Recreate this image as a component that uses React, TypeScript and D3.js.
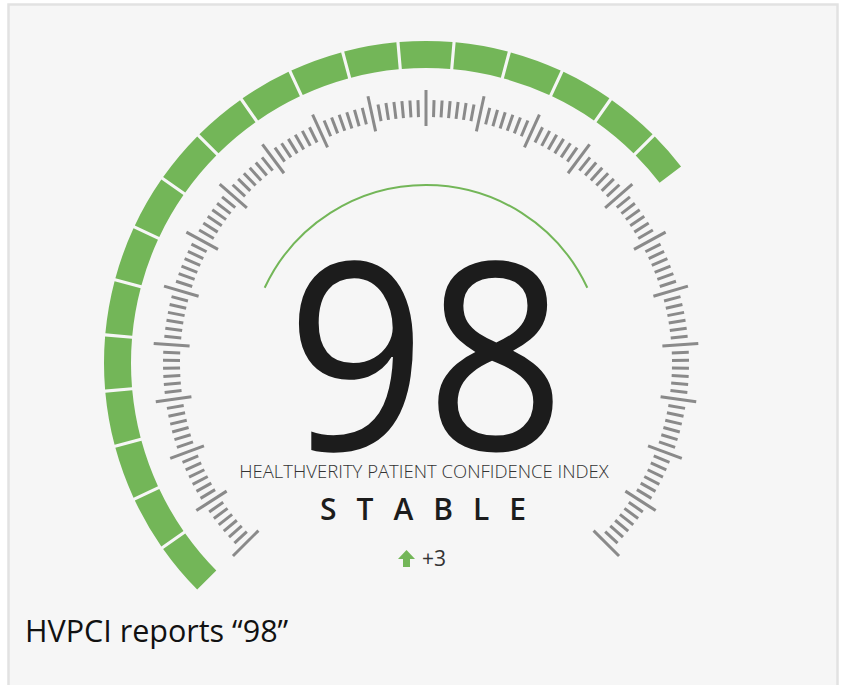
import { useMemo } from 'react'
import * as d3 from 'd3'

// gauge values
const score = 98
const change = 3
const status = 'STABLE'
const indexLabel = 'HEALTHVERITY PATIENT CONFIDENCE INDEX'
const caption = 'HVPCI reports \u201c98\u201d'

// green band: equal blocks, lit up to the score on a 0..gaugeMax dial
const segmentCount = 27
const gaugeMax = 141

// scale ticks: minor steps, every 7th one is long
const tickSteps = 154
const majorEvery = 7

const WIDTH = 842
const HEIGHT = 685
const GREEN = '#73b658'
const TICK = '#8a8a8a'

const deg = (d: number) => (d * Math.PI) / 180

export default function App() {
  const cx = 426
  const cy = 363

  const segAngle = useMemo(
    () => d3.scaleLinear().domain([0, segmentCount]).range([deg(-135), deg(135)]),
    []
  )
  const valueAngle = useMemo(
    () => d3.scaleLinear().domain([0, gaugeMax]).range([deg(-135), deg(135)]),
    []
  )
  const tickAngle = useMemo(
    () => d3.scaleLinear().domain([0, tickSteps]).range([-135, 135]),
    []
  )

  const bandArc = d3.arc<{ s: number; e: number }>()
    .innerRadius(295)
    .outerRadius(322)
    .startAngle(d => d.s)
    .endAngle(d => d.e)
    .padAngle(0.0072)

  const fillEnd = valueAngle(score)
  const segments = d3.range(segmentCount)
    .map(i => ({ s: segAngle(i), e: Math.min(segAngle(i + 1), fillEnd) }))
    .filter(d => d.e > d.s)

  const ticks = d3.range(tickSteps + 1).map(i => {
    const major = i % majorEvery === 0
    return {
      a: tickAngle(i),
      r0: major ? 237 : 246,
      r1: major ? 273 : 263,
      major
    }
  })

  const innerArc = d3.arc()({
    innerRadius: 178,
    outerRadius: 178,
    startAngle: deg(-65),
    endAngle: deg(65)
  } as any)

  return (
    <svg
      width={WIDTH}
      height={HEIGHT}
      style={{ position: 'absolute', left: 0, top: 0, background: '#fff' }}
      fontFamily="'Open Sans', sans-serif"
    >
      {/* panel */}
      <rect x={8.5} y={4.5} width={829} height={700} fill="#f6f6f6" stroke="#e2e2e2" strokeWidth={2.5} />

      <g transform={`translate(${cx},${cy})`}>
        {segments.map((d, i) => (
          <path key={i} d={bandArc(d) || ''} fill={GREEN} />
        ))}

        {ticks.map((t, i) => (
          <line
            key={i}
            transform={`rotate(${t.a})`}
            x1={0}
            x2={0}
            y1={-t.r0}
            y2={-t.r1}
            stroke={TICK}
            strokeWidth={3}
          />
        ))}

        <path d={innerArc || ''} fill="none" stroke={GREEN} strokeWidth={2} />
      </g>

      <text
        transform={`translate(${cx},450) scale(0.93,1)`}
        textAnchor="middle"
        fontSize={262}
        fill="#1c1c1c"
      >
        {score}
      </text>

      <text x={424} y={478} textAnchor="middle" fontSize={18.5} fontWeight={300} fill="#333">
        {indexLabel}
      </text>

      <text x={433} y={520} textAnchor="middle" fontSize={30} fontWeight={600} fill="#1c1c1c" letterSpacing={20}>
        {status}
      </text>

      <path
        d="M406.5,550 L415,559 L410,559 L410,567 L403,567 L403,559 L398,559 Z"
        fill={GREEN}
      />
      <text x={422} y={566} fontSize={21} fill="#333">
        {change > 0 ? `+${change}` : `${change}`}
      </text>

      <text x={25} y={642} fontSize={30.5} fill="#111">
        {caption}
      </text>
    </svg>
  )
}
